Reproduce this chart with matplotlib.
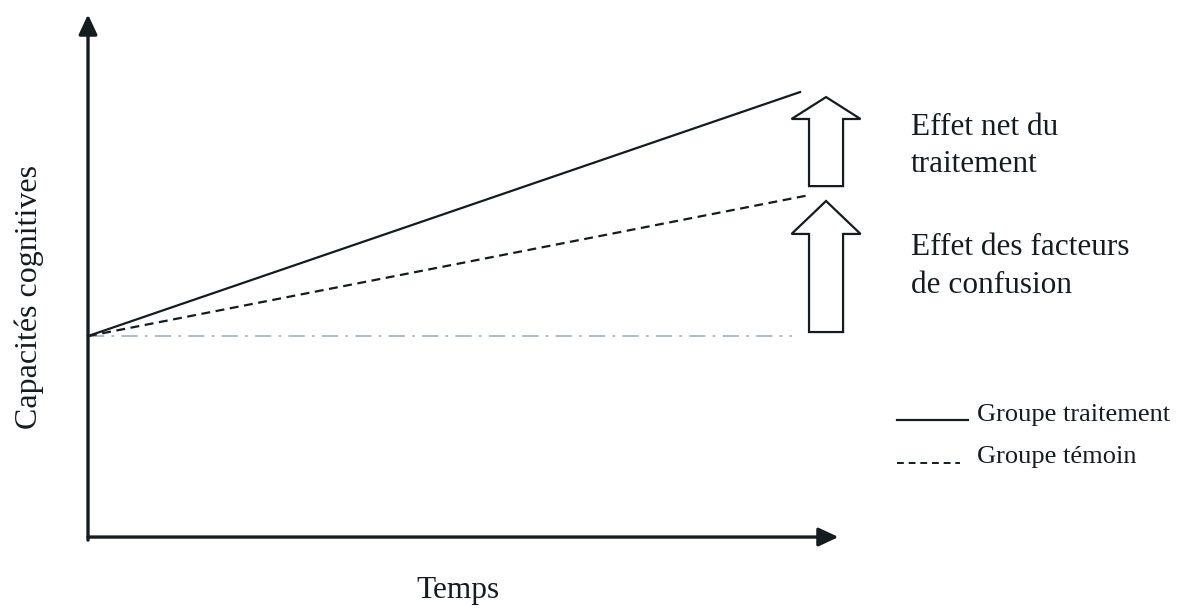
import matplotlib.pyplot as plt
from matplotlib.patches import FancyArrow

plt.rcParams['font.family'] = ['Liberation Serif', 'DejaVu Serif']

# schematic values (time from 0 to 1, baseline capacity = 1)
t_traitement = [0, 1.0]
traitement = [1.0, 2.214]
t_temoin = [0, 1.011]
temoin = [1.0, 1.70]
t_base = [0, 0.989]
base = [1.0, 1.0]
arrow_t = 1.0365
effet_net = [1.746, 2.189]        # bottom, tip
effet_confusion = [1.02, 1.672]   # bottom, tip
axis_x_end = 1.054
axis_y_end = 2.60

W, H = 1181, 609
fig = plt.figure(figsize=(W / 100, H / 100), dpi=100)
ax = fig.add_axes([0, 0, 1, 1])
ax.set_xlim(-0.1236, 1.535)
ax.set_ylim(-0.358, 2.672)
ax.axis('off')

ink = '#141c20'

# axes with arrow heads
arr = dict(arrowstyle='-|>,head_length=0.6,head_width=0.28', mutation_scale=20,
           lw=2.4, color=ink, shrinkA=0, shrinkB=0)
ax.annotate('', xy=(0, axis_y_end), xytext=(0, -0.015), arrowprops=arr)
ax.annotate('', xy=(axis_x_end, 0), xytext=(0, 0), arrowprops=arr)

ax.plot(t_base, base, color='#a8b8c4', lw=1.3, ls=(0, (9, 4, 1.5, 4)))
ax.plot(t_traitement, traitement, color=ink, lw=1.6)
ax.plot(t_temoin, temoin, color=ink, lw=1.6, ls=(0, (4, 2.5)))

# hollow arrows
for bottom, tip, hl in [(effet_net[0], effet_net[1], 0.109),
                        (effet_confusion[0], effet_confusion[1], 0.164)]:
    ax.add_patch(FancyArrow(arrow_t, bottom, 0, tip - bottom, width=0.0478,
                            head_width=0.0969, head_length=hl,
                            length_includes_head=True, fc='white', ec=ink, lw=1.6))


def fx(px):
    return px / W


def fy(py):
    return 1 - py / H


txt = dict(color=ink, fontsize=22.5, ha='left', va='baseline')
fig.text(fx(911), fy(135), "Effet net du", **txt)
fig.text(fx(911), fy(172), "traitement", **txt)
fig.text(fx(911), fy(255), "Effet des facteurs", **txt)
fig.text(fx(911), fy(293), "de confusion", **txt)
fig.text(fx(458), fy(598), "Temps", ha='center', va='baseline', color=ink, fontsize=22.5)
fig.text(fx(29), fy(297), "Capacités cognitives", ha='center', va='center',
         rotation=90, color=ink, fontsize=23)

# legend
fig.add_artist(plt.Line2D([fx(897), fx(968)], [fy(420), fy(420)], color=ink, lw=1.6))
fig.add_artist(plt.Line2D([fx(897), fx(960)], [fy(463), fy(463)], color=ink, lw=1.4,
                          ls=(0, (3.5, 2.5))))
fig.text(fx(977), fy(421), "Groupe traitement", ha='left', va='baseline', color=ink, fontsize=19)
fig.text(fx(977), fy(463), "Groupe témoin", ha='left', va='baseline', color=ink, fontsize=19)

fig.savefig('out.png', dpi=100, facecolor='white')
